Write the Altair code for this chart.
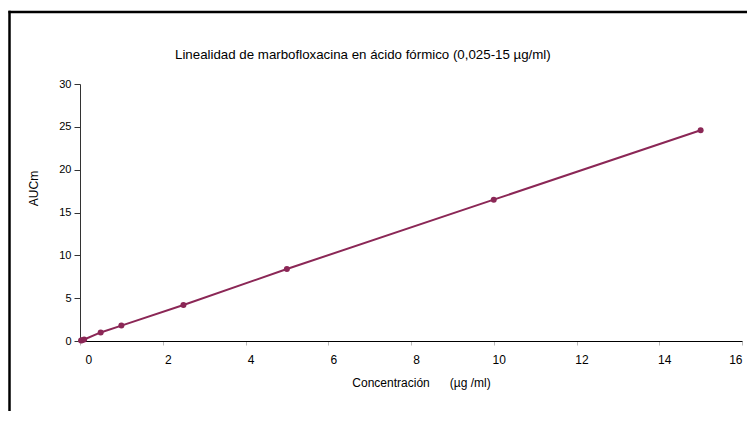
import altair as alt
import pandas as pd

# data
concentracion = [0.025, 0.05, 0.1, 0.5, 1.0, 2.5, 5.0, 10.0, 15.0]
aucm = [0.05, 0.1, 0.18, 1.0, 1.8, 4.2, 8.4, 16.5, 24.6]
x_ticks = [0, 2, 4, 6, 8, 10, 12, 14, 16]
y_ticks = [0, 5, 10, 15, 20, 25, 30]

df = pd.DataFrame({"conc": concentracion, "auc": aucm})
frame_df = pd.DataFrame({"a": [0]})

COLOR = "#8B2756"
FONT = "Liberation Sans"

x_enc = alt.X(
    "conc:Q",
    scale=alt.Scale(domain=[0, 16], nice=False, zero=False),
    axis=alt.Axis(
        values=x_ticks,
        title="Concentración" + "\u00a0" * 6 + "(µg /ml)",
        titleFont=FONT,
        titleFontSize=12,
        titleFontWeight="normal",
        titleColor="black",
        titleAlign="center",
        titleBaseline="alphabetic",
        titleX=341,
        titleY=45,
        labelFont=FONT,
        labelFontSize=12,
        labelColor="black",
        labelPadding=9,
        labelOffset={"condition": {"test": "datum.value === 16", "value": 0}, "value": 5},
        tickSize=4,
        tickColor="#bbbbbb",
        domainColor="black",
        domainWidth=1,
        grid=False,
    ),
)
y_enc = alt.Y(
    "auc:Q",
    scale=alt.Scale(domain=[0, 30], nice=False),
    axis=alt.Axis(
        values=y_ticks,
        title="AUCm",
        titleFont=FONT,
        titleFontSize=12,
        titleFontWeight="normal",
        titleColor="black",
        titleAngle=270,
        titleAlign="center",
        titleBaseline="middle",
        titleX=-47,
        titleY=104,
        labelFont=FONT,
        labelFontSize=11,
        labelColor="black",
        labelPadding=3,
        tickSize=6,
        tickColor="#333333",
        domainColor="#333333",
        domainWidth=1,
        grid=False,
    ),
)

base = alt.Chart(df)
line = base.mark_line(color=COLOR, strokeWidth=2).encode(x=x_enc, y=y_enc)
points = base.mark_point(filled=True, color=COLOR, size=36, opacity=1).encode(x=x_enc, y=y_enc)

top_border = alt.Chart(frame_df).mark_rule(color="black", strokeWidth=2.5).encode(
    x=alt.value(-71.5), x2=alt.value(680), y=alt.value(-72)
)
left_border = alt.Chart(frame_df).mark_rule(color="black", strokeWidth=2.5).encode(
    x=alt.value(-70.5), y=alt.value(-73.2), y2=alt.value(345)
)

chart = alt.layer(line, points, top_border, left_border).properties(
    width=662,
    height=257,
    background="white",
    autosize=alt.AutoSizeParams(type="none"),
    padding={"left": 72, "top": 76, "right": 5, "bottom": 70},
    title=alt.TitleParams(
        "Linealidad de marbofloxacina en ácido fórmico (0,025-15 µg/ml)",
        anchor="start",
        frame="group",
        dx=95,
        offset=-63,
        baseline="alphabetic",
        font=FONT,
        fontSize=13.3,
        fontWeight="normal",
        color="black",
    ),
).configure_view(stroke="white", strokeWidth=1).configure_axis(grid=False)

chart.save("out.html", embed_options={"renderer": "svg", "actions": False})
